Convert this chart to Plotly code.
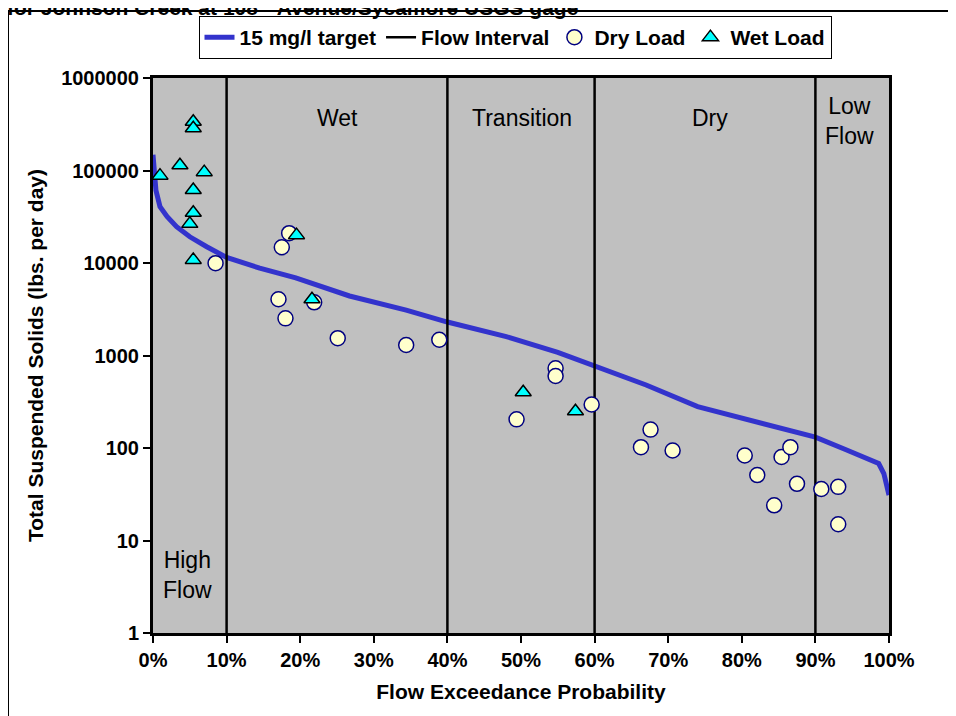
import plotly.graph_objects as go

# ---- data (x = flow exceedance %, y = lbs/day) ----
target_x = [0, 0.15, 0.4, 0.95, 1.9, 3.2, 5, 7.3, 10, 14.5, 19.4, 26.7, 34.4, 40,
            48, 55, 60, 67, 74, 81.5, 86, 90, 94, 96.5, 98.6, 99.3, 99.6, 100]
target_y = [148000, 101000, 61000, 40700, 31800, 24700, 19200, 15000, 11500, 8800,
            6900, 4400, 3100, 2300, 1600, 1080, 780, 480, 280, 195, 160, 131, 97,
            80, 68, 53, 40, 31]

interval_breaks = [10, 40, 60, 90]

dry_x = [8.5, 18.5, 17.5, 17.05, 18.0, 21.9, 25.1, 34.4, 38.9, 49.4, 54.7, 54.7,
         59.6, 66.3, 67.6, 70.6, 80.4, 82.1, 84.4, 85.4, 86.6, 87.5, 90.8, 93.1, 93.1]
dry_y = [9950, 21000, 14800, 4060, 2520, 3760, 1540, 1300, 1480, 204, 728, 600,
         295, 102, 158, 94, 83, 51, 24, 80, 102, 41, 36, 38, 15]

wet_x = [0.95, 3.66, 5.47, 5.47, 6.96, 5.47, 5.47, 5.0, 5.47, 19.5, 21.6, 50.3, 57.4]
wet_y = [88000, 114000, 337000, 286000, 96000, 61500, 35000, 26500, 10800, 20000,
         4060, 400, 250]

y_ticks = [1, 10, 100, 1000, 10000, 100000, 1000000]
x_ticks = list(range(0, 101, 10))

FONT = "Liberation Sans, Arial, sans-serif"

# pixel geometry of the plot area as seen on the page; the page body has an
# 8px margin, so the figure itself is laid out 8px up/left of that
OFF = 8
L, R, T, B = 153, 889, 78, 633
W, H = 956, 716


def px_x(p):
    return (p - L) / (R - L)


def px_y(p):
    return (B - p) / (B - T)


fig = go.Figure()

fig.add_trace(go.Scatter(
    x=target_x, y=target_y, mode="lines", name="15 mg/l target",
    line=dict(color="#3333CC", width=5), legendrank=1,
))

# flow interval separators as one broken line trace
ix, iy = [], []
for b in interval_breaks:
    ix += [b, b, None]
    iy += [1, 1000000, None]
fig.add_trace(go.Scatter(
    x=ix, y=iy, mode="lines", name="Flow Interval",
    line=dict(color="black", width=2.5), legendrank=2,
))

fig.add_trace(go.Scatter(
    x=dry_x, y=dry_y, mode="markers", name="Dry Load",
    marker=dict(symbol="circle", size=15, color="#FFFFCC",
                line=dict(color="#000080", width=1.5)),
    legendrank=3,
))

fig.add_trace(go.Scatter(
    x=wet_x, y=wet_y, mode="markers", name="Wet Load",
    marker=dict(symbol="triangle-up", size=14, color="#00FFFF",
                line=dict(color="black", width=1.5)),
    legendrank=4,
))

# region labels
labels = [
    ("Wet", 25.0, 5.57),
    ("Transition", 50.1, 5.57),
    ("Dry", 75.7, 5.57),
    ("Low<br>Flow", 94.7, 5.54),
    ("High<br>Flow", 4.75, 0.63),
]
for txt, lx, ly in labels:
    fig.add_annotation(x=lx, y=ly, xref="x", yref="y", text=txt, showarrow=False,
                       font=dict(family=FONT, size=23, color="black"))

# cropped title at the very top
fig.add_annotation(
    x=px_x(5), y=px_y(6), xref="paper", yref="paper", xanchor="left", yanchor="middle",
    text="for Johnson Creek at 108<sup>th</sup> Avenue/Sycamore USGS gage",
    showarrow=False, font=dict(family=FONT, size=21, color="black", weight="bold"),
)

# outer chart frame (extends past the picture on the right and bottom)
fig.add_shape(type="rect", xref="paper", yref="paper",
              x0=px_x(8), x1=px_x(975), y0=px_y(735), y1=px_y(11),
              line=dict(color="black", width=2), layer="below")

fig.update_xaxes(
    range=[0, 100], tickvals=x_ticks, ticktext=[f"{v}%" for v in x_ticks],
    ticks="outside", ticklen=7, tickwidth=1.5, tickcolor="black",
    showline=True, linecolor="black", linewidth=3, mirror=True,
    showgrid=False, zeroline=False,
    tickfont=dict(family=FONT, size=20, color="black", weight="bold"),
    title=dict(text="Flow Exceedance Probability", standoff=15,
               font=dict(family=FONT, size=21, color="black", weight="bold")),
)
fig.update_yaxes(
    type="log", range=[0, 6], tickvals=y_ticks, ticktext=[str(v) for v in y_ticks],
    ticks="outside", ticklen=7, tickwidth=1.5, tickcolor="black",
    showline=True, linecolor="black", linewidth=3, mirror=True,
    showgrid=False, zeroline=False,
    tickfont=dict(family=FONT, size=20, color="black", weight="bold"),
    title=dict(text="Total Suspended Solids (lbs. per day)", standoff=12,
               font=dict(family=FONT, size=21, color="black", weight="bold")),
)

fig.update_layout(
    width=W, height=H,
    margin=dict(l=L - OFF, r=W - (R - OFF), t=T - OFF, b=H - (B - OFF), autoexpand=False),
    paper_bgcolor="white", plot_bgcolor="#C0C0C0",
    font=dict(family=FONT, color="black"),
    showlegend=True,
    legend=dict(
        orientation="h", x=px_x(515), xanchor="center", y=px_y(16), yanchor="top",
        bgcolor="white", bordercolor="black", borderwidth=1, itemwidth=30,
        font=dict(family=FONT, size=21, color="black", weight="bold"),
        traceorder="normal",
    ),
)

fig.write_html("out.html")
